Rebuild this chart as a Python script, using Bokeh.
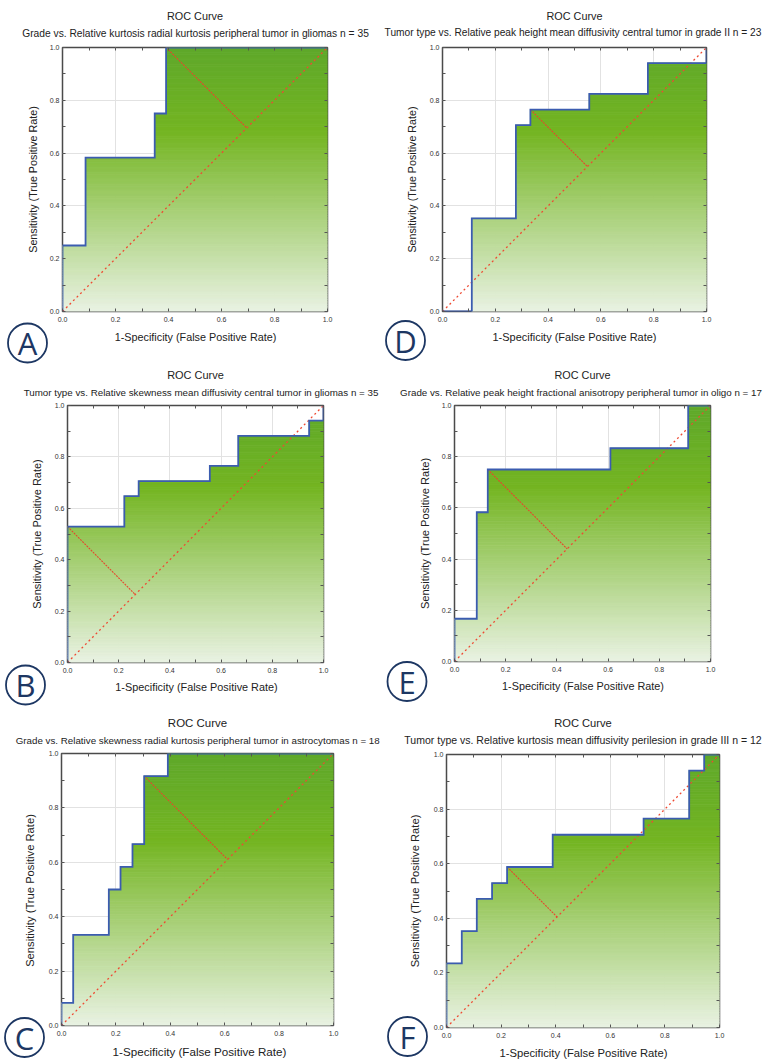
import math
import numpy as np
from bokeh.plotting import figure
from bokeh.models import Range1d, LinearAxis, FixedTicker, NumeralTickFormatter, GridBox
from bokeh.core.properties import value
from bokeh.embed import file_html
from bokeh.resources import INLINE

# ---------------- data ----------------
TICKS = [0.0, 0.2, 0.4, 0.6, 0.8, 1.0]
TICK_LABELS = ["0.0", "0.2", "0.4", "0.6", "0.8", "1.0"]
MINOR_TICKS = [0.1, 0.3, 0.5, 0.7, 0.9]
MAIN_TITLE = "ROC Curve"
X_LABEL = "1-Specificity (False Positive Rate)"
Y_LABEL = "Sensitivity (True Positive Rate)"
LETTERS = ["A", "D", "B", "E", "C", "F"]

A_sub = "Grade vs. Relative kurtosis radial kurtosis peripheral tumor in gliomas n = 35"
A_fpr = [0.0, 0.0, 0.087, 0.087, 0.348, 0.348, 0.391, 0.391, 1.0]
A_tpr = [0.0, 0.25, 0.25, 0.583, 0.583, 0.75, 0.75, 1.0, 1.0]
A_opt = (0.391, 1.0)

D_sub = "Tumor type vs. Relative peak height mean diffusivity central tumor in grade II n = 23"
D_fpr = [0.0, 0.111, 0.111, 0.278, 0.278, 0.333, 0.333, 0.556, 0.556, 0.778, 0.778, 1.0, 1.0]
D_tpr = [0.0, 0.0, 0.353, 0.353, 0.706, 0.706, 0.765, 0.765, 0.824, 0.824, 0.941, 0.941, 1.0]
D_opt = (0.333, 0.765)

B_sub = "Tumor type vs. Relative skewness mean diffusivity central tumor in gliomas n = 35"
B_fpr = [0.0, 0.0, 0.222, 0.222, 0.278, 0.278, 0.556, 0.556, 0.667, 0.667, 0.944, 0.944, 1.0, 1.0]
B_tpr = [0.0, 0.529, 0.529, 0.647, 0.647, 0.706, 0.706, 0.765, 0.765, 0.882, 0.882, 0.941, 0.941, 1.0]
B_opt = (0.0, 0.529)

E_sub = "Grade vs. Relative peak height fractional anisotropy peripheral tumor in oligo n = 17"
E_fpr = [0.0, 0.0, 0.087, 0.087, 0.130, 0.130, 0.609, 0.609, 0.913, 0.913, 1.0]
E_tpr = [0.0, 0.167, 0.167, 0.583, 0.583, 0.75, 0.75, 0.833, 0.833, 1.0, 1.0]
E_opt = (0.130, 0.75)

C_sub = "Grade vs. Relative skewness radial kurtosis peripheral tumor in astrocytomas n = 18"
C_fpr = [0.0, 0.0, 0.043, 0.043, 0.174, 0.174, 0.217, 0.217, 0.261, 0.261, 0.304, 0.304, 0.391, 0.391, 1.0]
C_tpr = [0.0, 0.083, 0.083, 0.333, 0.333, 0.5, 0.5, 0.583, 0.583, 0.667, 0.667, 0.917, 0.917, 1.0, 1.0]
C_opt = (0.304, 0.917)

F_sub = "Tumor type vs. Relative kurtosis mean diffusivity perilesion in grade III n = 12"
F_fpr = [0.0, 0.0, 0.056, 0.056, 0.111, 0.111, 0.167, 0.167, 0.222, 0.222, 0.389, 0.389,
         0.722, 0.722, 0.889, 0.889, 0.944, 0.944, 1.0]
F_tpr = [0.0, 0.235, 0.235, 0.353, 0.353, 0.471, 0.471, 0.529, 0.529, 0.588, 0.588, 0.706,
         0.706, 0.765, 0.765, 0.941, 0.941, 1.0, 1.0]
F_opt = (0.222, 0.588)

# ---------------- style / layout ----------------
FONT = "Liberation Sans"
NAVY = "#1d3763"
CURVE = "#3b5cb0"
REF = "#ee4a33"
GRAD_STOPS = [(0.0, (233, 242, 227)), (0.68, (116, 181, 34)), (1.0, (95, 168, 42))]
COL_W = 382
ROW_H = [350, 350, 360]
W, H = 2 * COL_W, sum(ROW_H)

# Arial / Liberation Sans advance widths (1/1000 em), used to size texts to a pixel width
ADV = {" ": 278, ".": 278, "=": 584, "-": 333, "(": 333, ")": 333,
       "a": 556, "b": 556, "c": 500, "d": 556, "e": 556, "f": 278, "g": 556, "h": 556,
       "i": 222, "j": 222, "k": 500, "l": 222, "m": 833, "n": 556, "o": 556, "p": 556,
       "q": 556, "r": 333, "s": 500, "t": 278, "u": 556, "v": 500, "w": 722, "x": 500,
       "y": 500, "z": 500, "G": 778, "R": 722, "T": 611, "I": 278, "O": 778, "C": 722,
       "S": 667, "F": 611, "P": 667}


def fit_px(text, width):
    em = sum(ADV.get(ch, 556) for ch in text) / 1000.0
    return "%.2fpx" % (width / em)


def grad(y):
    for (y0, c0), (y1, c1) in zip(GRAD_STOPS[:-1], GRAD_STOPS[1:]):
        if y <= y1:
            t = (y - y0) / (y1 - y0)
            c = [round(a + (b - a) * t) for a, b in zip(c0, c1)]
            return "#%02x%02x%02x" % tuple(c)
    return "#%02x%02x%02x" % GRAD_STOPS[-1][1]


def bands(fpr, tpr, n=110):
    fpr = np.asarray(fpr, float)
    tpr = np.asarray(tpr, float)
    edges = np.unique(np.round(np.concatenate([np.linspace(0, 1, n + 1), tpr]), 6))
    L, R, B, T, C = [], [], [], [], []
    for ya, yb in zip(edges[:-1], edges[1:]):
        m = tpr >= yb - 1e-9
        if not m.any():
            continue
        xl = fpr[m].min()
        if xl >= 1.0:
            continue
        L.append(xl); R.append(1.0); B.append(ya); T.append(yb)
        C.append(grad((ya + yb) / 2))
    return dict(left=L, right=R, bottom=B, top=T, color=C)


def style_axis(ax, labels=True):
    ax.ticker = FixedTicker(ticks=TICKS, minor_ticks=MINOR_TICKS)
    ax.axis_line_color = None
    ax.major_tick_in = 3
    ax.major_tick_out = 0
    ax.minor_tick_in = 3
    ax.minor_tick_out = 0
    ax.major_tick_line_color = "#555555"
    ax.minor_tick_line_color = "#555555"
    ax.major_label_text_font = FONT
    ax.major_label_text_font_size = "7px"
    ax.major_label_text_color = "#333333" if labels else None
    ax.formatter = NumeralTickFormatter(format="0.0")
    ax.major_label_overrides = dict(zip(TICKS, TICK_LABELS))


def panel(fpr, tpr, opt, h, bl, bt, fw, fh):
    p = figure(width=COL_W, height=h, x_range=Range1d(0, 1), y_range=Range1d(0, 1),
               output_backend="svg", toolbar_location=None, tools="",
               min_border_left=bl, min_border_right=COL_W - bl - fw,
               min_border_top=bt, min_border_bottom=h - bt - fh)
    p.frame_align = False
    p.background_fill_color = "white"
    p.border_fill_color = "white"
    p.outline_line_color = "#4a4a4a"
    p.outline_line_width = 1.5
    style_axis(p.xaxis[0])
    style_axis(p.yaxis[0])
    p.xaxis[0].major_label_standoff = 5
    p.yaxis[0].major_label_standoff = 3
    top = LinearAxis()
    right = LinearAxis()
    style_axis(top, labels=False)
    style_axis(right, labels=False)
    p.add_layout(top, "above")
    p.add_layout(right, "right")
    p.grid.grid_line_color = "#e2e2e2"
    p.grid.grid_line_width = 1

    src = bands(fpr, tpr)
    p.quad(left="left", right="right", bottom="bottom", top="top", source=src,
           fill_color="color", line_color="color", line_width=0.8)
    p.line([TICKS[0], TICKS[-1]], [TICKS[0], TICKS[-1]], line_color=REF,
           line_width=1.3, line_dash="2 3")
    foot = (opt[0] + opt[1]) / 2
    p.line([opt[0], foot], [opt[1], foot], line_color="#e5482c", line_width=1.1,
           line_dash="2 1")
    p.line(fpr, tpr, line_color=CURVE, line_width=1.8, line_join="miter")
    return p


# frame geometry: (row height, left border, top border, frame w, frame h)
pA = panel(A_fpr, A_tpr, A_opt, ROW_H[0], 62, 47, 265, 264)
pD = panel(D_fpr, D_tpr, D_opt, ROW_H[0], 60, 47, 264, 264)
pB = panel(B_fpr, B_tpr, B_opt, ROW_H[1], 67, 55, 256, 257)
pE = panel(E_fpr, E_tpr, E_opt, ROW_H[1], 72, 55, 256, 256)
pC = panel(C_fpr, C_tpr, C_opt, ROW_H[2], 61, 53, 272, 272)
pF = panel(F_fpr, F_tpr, F_opt, ROW_H[2], 64, 54, 273, 273)

# ---------------- overlay for texts outside the frames (page pixel coords) ----------------
ov = figure(width=W, height=H, x_range=Range1d(0, W), y_range=Range1d(H, 0),
            output_backend="svg", toolbar_location=None, tools="",
            x_axis_location=None, y_axis_location=None,
            min_border_left=0, min_border_right=0, min_border_top=0, min_border_bottom=0)
ov.frame_align = False
ov.background_fill_color = None
ov.border_fill_color = None
ov.outline_line_color = None
ov.grid.visible = False

SUBS = [A_sub, D_sub, B_sub, E_sub, C_sub, F_sub]
title_x = [194.5, 574, 195, 582, 197, 582.5]
title_y = [15, 15, 374, 374, 722, 722]
title_w = [56, 56, 56.7, 56, 59.3, 57.7]
sub_x = [195, 572.5, 200.5, 580.5, 197.2, 582.5]
sub_y = [32.5, 32.3, 392.3, 392.3, 740, 739.3]
sub_w = [346.7, 378, 355.6, 362, 364.3, 358.4]
xl_x = [195, 574, 196, 582.5, 199, 583]
xl_y = [336, 336.7, 686.7, 685, 1050.7, 1052.7]
xl_w = [161.7, 164, 162.3, 162, 174, 168]
yl_x = [32, 411, 36.7, 424.3, 29.3, 414]
yl_y = [179, 179, 533.5, 533, 890, 890.5]
yl_w = [147, 146.7, 150, 151.7, 153.3, 153.3]
let_x = [27, 405, 25, 406.5, 24, 407]
let_y = [342.5, 340, 684.5, 681, 1037, 1036]

for i in range(6):
    ov.text(x=[title_x[i]], y=[title_y[i]], text=[MAIN_TITLE], text_font=value(FONT),
            text_font_size=value(fit_px(MAIN_TITLE, title_w[i])), text_color="#222222",
            text_align="center", text_baseline="middle")
    ov.text(x=[sub_x[i]], y=[sub_y[i]], text=[SUBS[i]], text_font=value(FONT),
            text_font_size=value(fit_px(SUBS[i], sub_w[i])), text_color="#222222",
            text_align="center", text_baseline="middle")
    ov.text(x=[xl_x[i]], y=[xl_y[i]], text=[X_LABEL], text_font=value(FONT),
            text_font_size=value(fit_px(X_LABEL, xl_w[i])), text_color="#222222",
            text_align="center", text_baseline="middle")
    ov.text(x=[yl_x[i]], y=[yl_y[i]], text=[Y_LABEL], text_font=value(FONT),
            text_font_size=value(fit_px(Y_LABEL, yl_w[i])), text_color="#222222",
            text_align="center", text_baseline="middle", angle=math.pi / 2)

ov.scatter(x=let_x, y=let_y, size=39, marker="circle", fill_color="white",
           line_color=NAVY, line_width=1.8)
ov.text(x=let_x, y=let_y, text=LETTERS, text_font=value("Open Sans"),
        text_font_size=value("31px"), text_color=NAVY,
        text_align="center", text_baseline="middle")

grid = GridBox(children=[(pA, 0, 0), (pD, 0, 1), (pB, 1, 0), (pE, 1, 1),
                         (pC, 2, 0), (pF, 2, 1), (ov, 0, 0, 3, 2)])
open("out.html", "w").write(file_html(grid, INLINE))
